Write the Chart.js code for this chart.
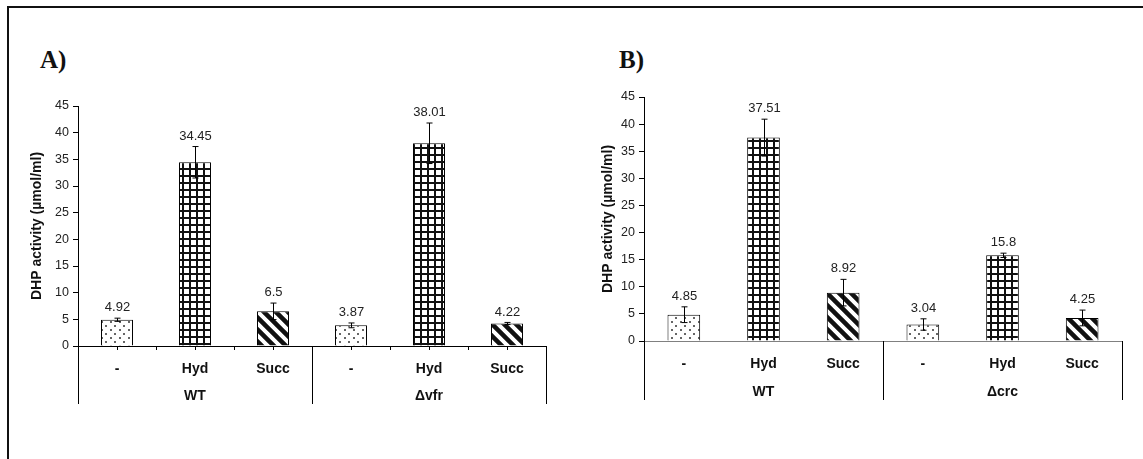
<!DOCTYPE html>
<html>
<head>
  <meta charset="UTF-8" />
  <title>DHP activity</title>
  <script src="https://cdn.jsdelivr.net/npm/chart.js"></script>
  <style>
    body { margin: 0; background: #fff; width: 1143px; height: 459px; position: relative; overflow: hidden; }
    #frame { position: absolute; left: 7px; top: 6px; width: 1200px; height: 500px; border-top: 2px solid #111; border-left: 2px solid #111; }
    canvas { position: absolute; top: 0; }
    .panel { position: absolute; top: 47px; line-height: 1; font-family: "Liberation Serif", "Times New Roman", serif; font-weight: bold; font-size: 25px; color: #111; }
  </style>
</head>
<body>
  <div id="frame"></div>
  <div class="panel" style="left:40px">A)</div>
  <div class="panel" style="left:619px">B)</div>
  <canvas id="chartA" width="570" height="459" style="left:0px"></canvas>
  <canvas id="chartB" width="573" height="459" style="left:570px"></canvas>

  <script>
    // values
    const treatments = ['-', 'Hyd', 'Succ'];
    const groupsA = ['WT', 'Δvfr'];
    const groupsB = ['WT', 'Δcrc'];
    const valuesA = [4.92, 34.45, 6.5, 3.87, 38.01, 4.22];
    const errorsA = [0.3, 2.95, 1.55, 0.45, 3.8, 0.2];
    const valuesB = [4.85, 37.51, 8.92, 3.04, 15.8, 4.25];
    const errorsB = [1.45, 3.4, 2.45, 1.05, 0.4, 1.45];
    const yMin = 0, yMax = 45, yStep = 5;
    const yTitle = 'DHP activity (µmol/ml)';

    const FONT = '"Liberation Sans", Arial, sans-serif';

    function makePattern(kind) {
      const c = document.createElement('canvas');
      const g = c.getContext('2d');
      if (kind === 'dots') {
        c.width = 9; c.height = 8;
        g.fillStyle = '#fff'; g.fillRect(0, 0, 9, 8);
        g.fillStyle = '#666';
        g.fillRect(2, 1, 2, 2);
        g.fillRect(6, 5, 2, 2);
      } else if (kind === 'grid') {
        c.width = 7; c.height = 7;
        g.fillStyle = '#fff'; g.fillRect(0, 0, 7, 7);
        g.fillStyle = '#111';
        g.fillRect(0, 0, 7, 2);
        g.fillRect(0, 0, 2, 7);
      } else {
        c.width = 12; c.height = 12;
        g.fillStyle = '#fff'; g.fillRect(0, 0, 12, 12);
        g.strokeStyle = '#111'; g.lineWidth = 4.5;
        g.beginPath();
        g.moveTo(-6, -6); g.lineTo(18, 18);
        g.moveTo(-18, -6); g.lineTo(6, 18);
        g.moveTo(6, -6); g.lineTo(30, 18);
        g.stroke();
      }
      return g.createPattern(c, 'repeat');
    }
    const fills = [makePattern('dots'), makePattern('grid'), makePattern('stripes')];

    // error bars, value labels, grouped category box and y title
    const extras = {
      id: 'extras',
      afterDatasetsDraw(chart, args, o) {
        const ctx = chart.ctx;
        const x = chart.scales.x, y = chart.scales.y;
        const a = chart.chartArea;
        ctx.save();
        ctx.strokeStyle = '#000';
        ctx.lineWidth = 1;
        o.values.forEach((v, i) => {
          const cx = Math.round(x.getPixelForValue(i)) + 0.5;
          const top = y.getPixelForValue(v + o.errors[i]);
          const bot = y.getPixelForValue(v - o.errors[i]);
          ctx.beginPath();
          ctx.moveTo(cx, top); ctx.lineTo(cx, bot);
          ctx.moveTo(cx - 3, top); ctx.lineTo(cx + 3, top);
          ctx.moveTo(cx - 3, bot); ctx.lineTo(cx + 3, bot);
          ctx.stroke();
          ctx.fillStyle = '#222';
          ctx.font = '13px ' + FONT;
          ctx.textAlign = 'center';
          ctx.textBaseline = 'middle';
          ctx.fillText(String(v), cx, top - 10.5);
        });

        const depth = o.depth;
        const mid = (x.getPixelForValue(2) + x.getPixelForValue(3)) / 2;
        ctx.beginPath();
        [a.left, mid, a.right].forEach(px => {
          const xx = Math.round(px) + 0.5;
          ctx.moveTo(xx, a.bottom); ctx.lineTo(xx, a.bottom + depth);
        });
        if (o.halfTicks) {
          for (let k = 0; k < o.values.length; k++) {
            const c = x.getPixelForValue(k);
            const b = c + (x.getPixelForValue(1) - x.getPixelForValue(0)) / 2;
            [c, b].forEach(px => {
              const xx = Math.round(px) + 0.5;
              ctx.moveTo(xx, a.bottom); ctx.lineTo(xx, a.bottom + 4);
            });
          }
        }
        ctx.stroke();

        ctx.fillStyle = '#111';
        ctx.font = 'bold 14px ' + FONT;
        ctx.textAlign = 'center';
        ctx.textBaseline = 'middle';
        o.groups.forEach((gname, gi) => {
          ctx.fillText(gname, x.getPixelForValue(gi * 3 + 1), a.bottom + o.groupOffset);
        });

        ctx.translate(o.titleX, (a.top + a.bottom) / 2);
        ctx.rotate(-Math.PI / 2);
        ctx.fillText(yTitle, 0, 0);
        ctx.restore();
      }
    };

    function create_chart(id, values, errors, groups, opts) {
      const labels = [];
      groups.forEach(() => treatments.forEach(t => labels.push(t)));
      const chart = new Chart(document.getElementById(id).getContext('2d'), {
        type: 'bar',
        data: {
          labels: labels,
          datasets: [{
            data: values,
            backgroundColor: values.map((v, i) => fills[i % 3]),
            borderColor: '#000',
            borderWidth: 1,
            barPercentage: 0.41,
            categoryPercentage: 1,
          }]
        },
        options: {
          responsive: false,
          animation: false,
          layout: { padding: { left: 40, top: 100, right: 20, bottom: 60 } },
          plugins: {
            legend: { display: false },
            tooltip: { enabled: false },
            extras: {
              values: values, errors: errors, groups: groups,
              depth: opts.depth, halfTicks: opts.halfTicks,
              groupOffset: opts.groupOffset, titleX: opts.titleX,
            },
          },
          scales: {
            x: {
              grid: { display: false, drawTicks: false },
              border: { display: true, color: opts.baseColor, width: 1 },
              ticks: { color: '#111', padding: 15, font: { family: FONT, size: 14, weight: 'bold' } },
            },
            y: {
              min: yMin, max: yMax,
              grid: { drawOnChartArea: false, drawTicks: true, tickLength: 5, color: '#000' },
              border: { color: '#000', width: 1 },
              ticks: { stepSize: yStep, padding: 4, color: '#222', font: { family: FONT, size: 12.5 } },
            }
          }
        },
        plugins: [extras],
      });

      // pin the plot area to where it sits in the figure
      for (let pass = 0; pass < 2; pass++) {
        const p = chart.options.layout.padding;
        const a = chart.chartArea;
        p.left += opts.area.left - a.left;
        p.top += opts.area.top - a.top;
        p.right += a.right - opts.area.right;
        p.bottom += a.bottom - opts.area.bottom;
        chart.update();
      }
      return chart;
    }

    create_chart('chartA', valuesA, errorsA, groupsA, {
      area: { left: 78, top: 106, right: 546, bottom: 346 },
      depth: 58, halfTicks: true, groupOffset: 50, titleX: 37, baseColor: '#000',
    });
    create_chart('chartB', valuesB, errorsB, groupsB, {
      area: { left: 74, top: 97, right: 552, bottom: 341 },
      depth: 59, halfTicks: false, groupOffset: 51, titleX: 38, baseColor: '#808080',
    });
  </script>
</body>
</html>
